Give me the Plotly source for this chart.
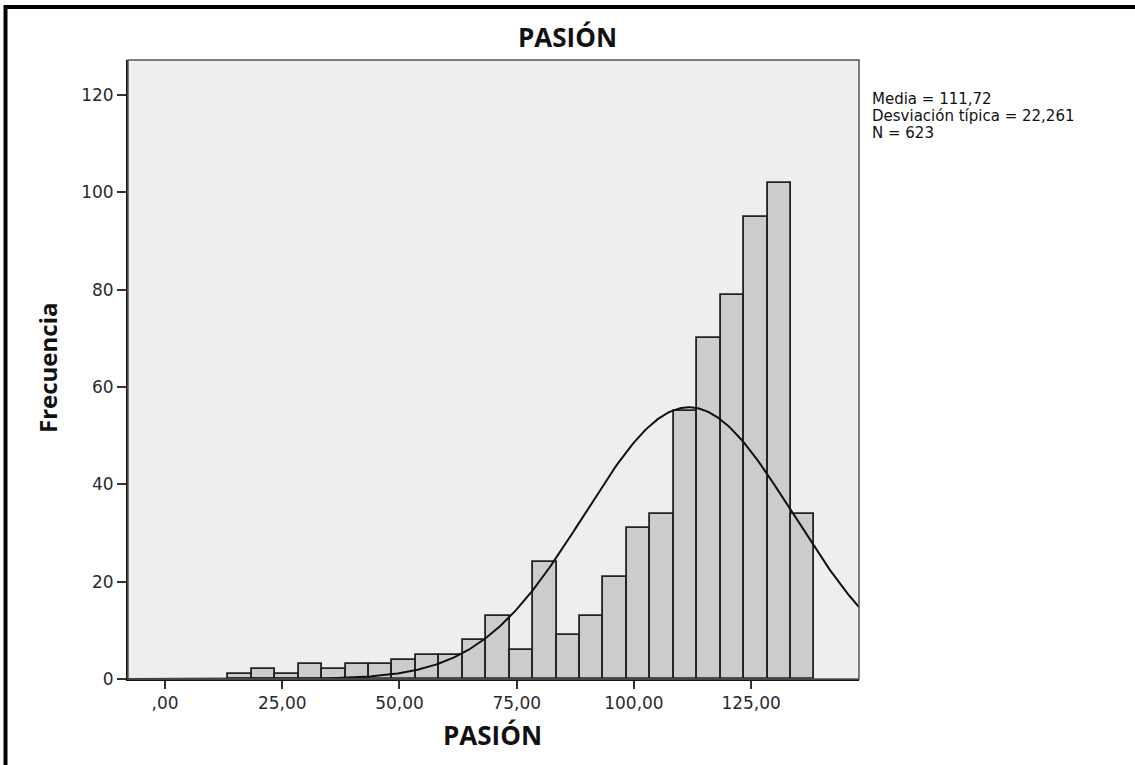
import numpy as np
import plotly.graph_objects as go

# Histogram of PASIÓN scores (bin width 5)
bin_centers = [16, 21, 26, 31, 36, 41, 46, 51, 56, 61, 66, 71, 76, 81, 86,
               91, 96, 101, 106, 111, 116, 121, 126, 131, 136]
frequencies = [1, 2, 1, 3, 2, 3, 3, 4, 5, 5, 8, 13, 6, 24, 9,
               13, 21, 31, 34, 55, 70, 79, 95, 102, 34]
bin_width = 5

# Summary statistics
media = 111.72
desv = 22.261
n_total = 623

x_tick_vals = [0, 25, 50, 75, 100, 125]
x_tick_text = [",00", "25,00", "50,00", "75,00", "100,00", "125,00"]
y_tick_vals = [0, 20, 40, 60, 80, 100, 120]

stats_lines = [
    f"Media = {media:.2f}".replace(".", ","),
    f"Desviación típica = {desv:.3f}".replace(".", ","),
    f"N = {n_total}",
]

W, H = 1135, 765
L, R, T, B = 128, 859, 60, 679          # plot area in pixels
x_range = [-7.9, 148.0]
y_range = [0, 127.2]


def px_x(p):
    return (p - L) / (R - L)


def px_y(p):
    return (B - p) / (B - T)


# Normal curve scaled to counts
xs = np.linspace(x_range[0], x_range[1], 400)
ys = n_total * bin_width / (desv * np.sqrt(2 * np.pi)) * np.exp(-0.5 * ((xs - media) / desv) ** 2)

fig = go.Figure()
fig.add_trace(go.Bar(
    x=bin_centers, y=frequencies, width=bin_width,
    marker=dict(color="#cccccc", line=dict(color="#222222", width=1.8)),
    hoverinfo="x+y",
))
fig.add_trace(go.Scatter(
    x=xs, y=ys, mode="lines",
    line=dict(color="#111111", width=2),
    hoverinfo="skip",
))

fig.update_layout(
    width=W, height=H,
    margin=dict(l=L, r=W - R, t=T, b=H - B),
    paper_bgcolor="white",
    plot_bgcolor="#eeeeee",
    showlegend=False,
    bargap=0,
    font=dict(family="DejaVu Sans", color="#222222"),
)

tick_font = dict(family="DejaVu Sans", size=17, color="#2a2a2a")
fig.update_xaxes(
    range=x_range, tickvals=x_tick_vals, ticktext=x_tick_text,
    showgrid=False, zeroline=False,
    showline=True, linecolor="#111111", linewidth=1.8,
    ticks="outside", ticklen=8, tickwidth=1.8, tickcolor="#333333",
    tickfont=tick_font,
)
fig.update_yaxes(
    range=y_range, tickvals=y_tick_vals,
    showgrid=False, zeroline=False,
    showline=True, linecolor="#111111", linewidth=1.8,
    ticks="outside", ticklen=9, tickwidth=1.8, tickcolor="#333333",
    tickfont=tick_font,
)

shapes = [
    # plot frame
    dict(type="rect", xref="paper", yref="paper", x0=0, x1=1, y0=0, y1=1,
         line=dict(color="#555555", width=1.5), layer="above"),
    # outer border
    dict(type="rect", xref="paper", yref="paper",
         x0=px_x(5.5), x1=px_x(1200), y0=px_y(800), y1=px_y(7),
         line=dict(color="#000000", width=4)),
]
fig.update_layout(shapes=shapes)

heading_font = dict(family="Open Sans", size=26, color="#111111")
fig.add_annotation(
    text="<b>PASIÓN</b>", xref="paper", yref="paper",
    x=px_x(567), y=px_y(37), xanchor="center", yanchor="middle",
    showarrow=False, font=heading_font,
)
fig.add_annotation(
    text="<b>PASIÓN</b>", xref="paper", yref="paper",
    x=px_x(492), y=px_y(735), xanchor="center", yanchor="middle",
    showarrow=False, font=heading_font,
)
fig.add_annotation(
    text="<b>Frecuencia</b>", xref="paper", yref="paper",
    x=px_x(47), y=px_y(368), xanchor="center", yanchor="middle",
    textangle=-90, showarrow=False,
    font=dict(family="Open Sans", size=24, color="#111111"),
)

for i, line in enumerate(stats_lines):
    fig.add_annotation(
        text=line, xref="paper", yref="paper",
        x=px_x(871), y=px_y(99 + 17 * i),
        xanchor="left", yanchor="middle", align="left", showarrow=False,
        borderpad=0,
        font=dict(family="DejaVu Sans", size=15, color="#111111"),
    )

fig.write_html("out.html")
